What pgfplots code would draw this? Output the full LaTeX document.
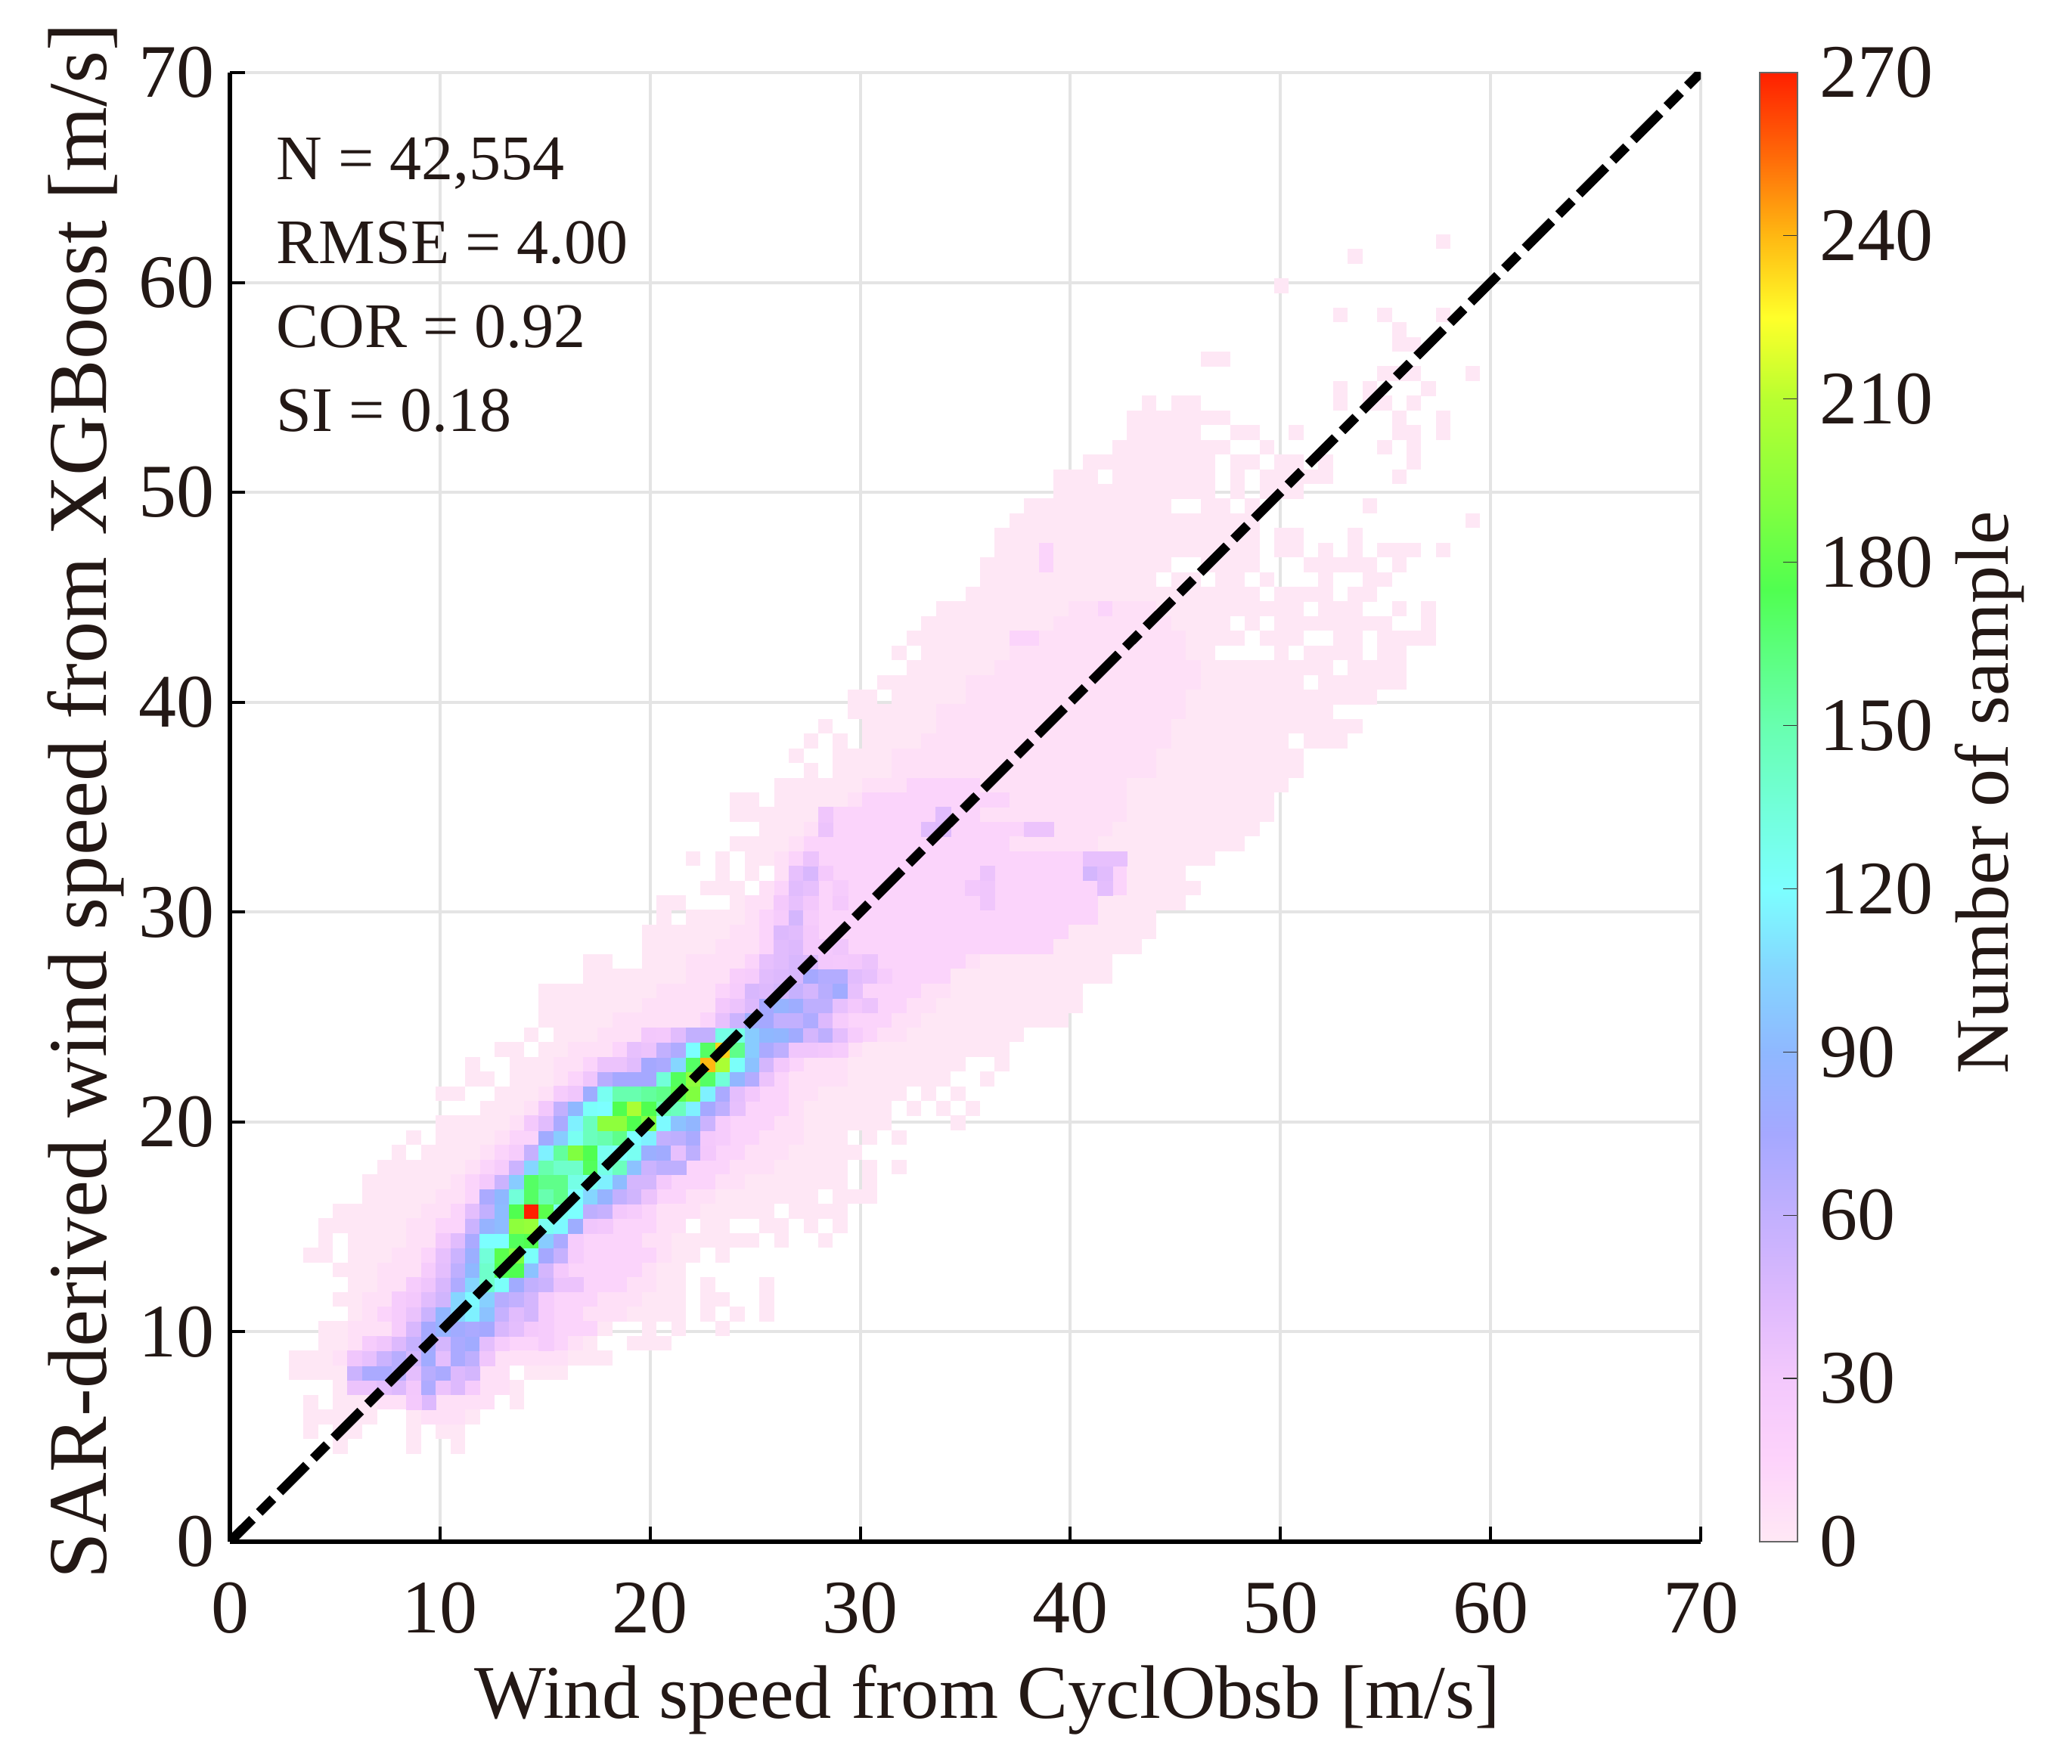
\documentclass[border=0pt]{standalone}
\usepackage{pgfplots}
\usepackage{pgfplotstable}
\usepackage{fontspec}
\setmainfont{Liberation Serif}
\pgfplotsset{compat=1.18}
\definecolor{ink}{HTML}{231815}
\definecolor{gridc}{HTML}{E4E4E4}
\definecolor{layA}{HTML}{FEE7F5}
\definecolor{layB}{HTML}{FEE0F7}
\definecolor{layC}{HTML}{FBD4FB}
% pale body of the histogram: row j, first and last bin of each run (bin = 0.7 m/s)
\pgfplotstableread[row sep=\\]{
j a b\\
6 7 7\\ 6 12 12\\ 6 15 15\\ 7 5 5\\ 7 7 8\\ 7 12 12\\ 7 14 15\\ 8 5 9\\ 8 12 16\\ 9 5 5\\ 9 7 17\\ 9 19 19\\ 10 7 19\\ 11 4 18\\ 11 20 22\\ 12 4 25\\ 13 6 24\\ 13 27 29\\ 14 6 25\\ 14 28 28\\ 14 30 30\\ 14 33 33\\ 15 8 30\\ 15 32 32\\ 15 34 34\\ 15 36 36\\ 16 7 30\\ 16 32 33\\ 16 36 36\\ 17 8 30\\ 17 32 32\\ 17 36 36\\ 18 7 30\\ 19 5 6\\ 19 8 31\\ 19 33 33\\ 20 6 6\\ 20 8 35\\ 20 37 37\\ 20 40 40\\ 21 6 30\\ 21 32 33\\ 21 36 37\\ 21 39 39\\ 21 41 41\\ 22 7 36\\ 22 38 41\\ 23 9 39\\ 23 41 43\\ 24 9 41\\ 24 43 43\\ 25 10 41\\ 25 43 43\\ 25 45 45\\ 26 11 11\\ 26 13 42\\ 27 12 12\\ 27 14 41\\ 27 43 43\\ 27 45 45\\ 28 14 44\\ 28 49 49\\ 29 17 44\\ 29 46 46\\ 29 48 48\\ 29 50 50\\ 30 14 15\\ 30 18 45\\ 30 47 47\\ 30 49 49\\ 31 16 17\\ 31 19 48\\ 31 51 51\\ 32 16 16\\ 32 19 49\\ 32 52 52\\ 33 18 19\\ 33 21 52\\ 34 20 20\\ 34 22 53\\ 35 21 56\\ 36 21 57\\ 37 21 57\\ 38 24 59\\ 39 24 25\\ 39 28 59\\ 40 28 61\\ 41 28 62\\ 42 29 29\\ 42 31 62\\ 43 29 30\\ 43 34 64\\ 44 32 34\\ 44 36 65\\ 45 33 33\\ 45 35 35\\ 45 37 64\\ 46 31 31\\ 46 33 33\\ 46 35 66\\ 47 34 68\\ 48 36 69\\ 49 34 70\\ 50 34 35\\ 50 37 70\\ 51 37 71\\ 52 39 39\\ 52 41 72\\ 53 38 38\\ 53 41 72\\ 54 39 39\\ 54 41 41\\ 54 43 71\\ 54 73 75\\ 55 40 40\\ 55 43 76\\ 56 42 74\\ 57 42 43\\ 57 45 77\\ 58 44 72\\ 58 74 79\\ 59 46 74\\ 59 76 79\\ 60 45 45\\ 60 47 66\\ 60 71 71\\ 60 73 76\\ 60 78 79\\ 61 46 68\\ 61 70 72\\ 61 75 76\\ 61 78 81\\ 62 47 67\\ 62 69 69\\ 62 71 78\\ 62 81 81\\ 63 48 72\\ 63 74 76\\ 63 79 79\\ 63 81 81\\ 64 50 69\\ 64 71 74\\ 64 76 77\\ 65 51 62\\ 65 64 65\\ 65 67 68\\ 65 70 70\\ 65 74 74\\ 65 77 78\\ 66 51 63\\ 66 66 69\\ 66 73 77\\ 66 79 79\\ 67 52 69\\ 67 71 72\\ 67 74 74\\ 67 76 76\\ 67 78 80\\ 67 82 82\\ 68 52 69\\ 68 71 72\\ 68 76 76\\ 69 53 69\\ 69 84 84\\ 70 54 63\\ 70 66 67\\ 70 69 69\\ 70 77 77\\ 71 56 66\\ 71 68 68\\ 71 70 72\\ 72 56 58\\ 72 60 66\\ 72 68 68\\ 72 70 74\\ 72 79 79\\ 73 58 66\\ 73 68 69\\ 73 71 72\\ 73 74 74\\ 73 80 80\\ 74 60 67\\ 74 70 70\\ 74 78 78\\ 74 80 80\\ 75 61 65\\ 75 68 69\\ 75 72 72\\ 75 79 80\\ 75 82 82\\ 76 61 67\\ 76 79 79\\ 76 82 82\\ 77 62 62\\ 77 64 65\\ 77 75 75\\ 77 77 78\\ 77 80 80\\ 78 75 75\\ 78 77 77\\ 78 81 81\\ 79 78 80\\ 79 84 84\\ 80 66 67\\ 81 79 80\\ 82 79 79\\ 83 75 75\\ 83 78 78\\ 83 82 82\\ 85 71 71\\ 87 76 76\\ 88 82 82\\
}\layerA
\pgfplotstableread[row sep=\\]{
j a b\\
8 13 15\\ 9 10 17\\ 10 8 18\\ 11 9 18\\ 12 7 22\\ 13 8 23\\ 14 8 24\\ 15 9 26\\ 16 9 27\\ 17 10 28\\ 18 10 28\\ 19 11 29\\ 20 12 29\\ 21 12 30\\ 22 13 31\\ 23 14 32\\ 24 15 34\\ 25 16 36\\ 26 17 37\\ 27 18 38\\ 28 19 38\\ 29 20 38\\ 30 21 39\\ 31 22 41\\ 32 22 41\\ 33 23 42\\ 34 25 45\\ 35 26 46\\ 36 28 47\\ 37 29 48\\ 38 31 48\\ 39 31 50\\ 40 33 52\\ 41 34 52\\ 42 35 53\\ 43 35 53\\ 44 36 54\\ 45 37 55\\ 46 37 57\\ 47 38 58\\ 48 39 59\\ 49 40 60\\ 50 42 60\\ 51 43 60\\ 52 45 62\\ 53 45 62\\ 54 47 63\\ 55 48 63\\ 56 48 64\\ 57 50 64\\ 58 50 65\\ 59 52 65\\ 60 53 64\\ 61 55 64\\ 62 56 63\\ 63 57 62\\
}\layerB
\pgfplotstableread[row sep=\\]{
j a b\\
13 19 22\\ 14 11 24\\ 15 10 23\\ 16 11 24\\ 17 12 26\\ 18 13 27\\ 19 13 28\\ 20 14 27\\ 21 14 28\\ 22 15 28\\ 23 16 30\\ 24 16 32\\ 25 17 33\\ 26 18 34\\ 27 19 35\\ 28 20 36\\ 29 21 37\\ 30 22 37\\ 31 23 37\\ 32 24 38\\ 33 26 41\\ 34 28 43\\ 35 32 44\\ 36 33 45\\ 37 33 46\\ 38 34 48\\ 39 35 49\\ 40 36 55\\ 41 36 56\\ 42 36 58\\ 43 37 58\\ 44 37 60\\ 45 38 60\\ 46 38 60\\ 47 39 52\\ 48 41 53\\ 49 41 50\\ 50 43 52\\ 51 46 50\\ 61 53 54\\ 63 59 59\\ 66 55 55\\ 67 55 55\\
}\layerC
% dense core: bin i, row j, number of samples
\pgfplotstableread[row sep=\\]{
i j v\\
13 9 45\\ 12 9 28\\
8 10 35\\ 9 10 35\\ 10 10 40\\ 11 10 45\\ 12 10 30\\ 13 10 70\\ 14 10 35\\ 15 10 45\\ 16 10 25\\
8 11 55\\ 9 11 72\\ 10 11 72\\ 11 11 65\\ 12 11 40\\ 13 11 65\\ 14 11 72\\ 15 11 45\\ 16 11 50\\
8 12 32\\ 9 12 38\\ 10 12 55\\ 11 12 65\\ 12 12 50\\ 13 12 78\\ 14 12 40\\ 15 12 72\\ 16 12 62\\ 17 12 32\\
9 13 25\\ 10 13 32\\ 11 13 45\\ 12 13 58\\ 13 13 75\\ 14 13 50\\ 15 13 72\\ 16 13 78\\ 17 13 40\\ 18 13 25\\ 21 13 25\\
11 14 25\\ 12 14 48\\ 13 14 75\\ 14 14 85\\ 15 14 78\\ 16 14 72\\ 17 14 75\\ 18 14 48\\ 19 14 40\\ 20 14 28\\ 21 14 25\\
11 15 25\\ 12 15 36\\ 13 15 55\\ 14 15 88\\ 15 15 105\\ 16 15 115\\ 17 15 95\\ 18 15 58\\ 19 15 42\\ 20 15 50\\ 21 15 25\\
11 16 25\\ 12 16 30\\ 13 16 42\\ 14 16 52\\ 15 16 105\\ 16 16 118\\ 17 16 102\\ 18 16 66\\ 19 16 60\\ 20 16 50\\ 21 16 25\\
12 17 25\\ 13 17 33\\ 14 17 48\\ 15 17 70\\ 16 17 105\\ 17 17 140\\ 18 17 122\\ 19 17 78\\ 20 17 60\\ 21 17 55\\ 22 17 35\\ 23 17 35\\
13 18 25\\ 14 18 40\\ 15 18 62\\ 16 18 90\\ 17 18 140\\ 18 18 175\\ 19 18 175\\ 20 18 95\\ 21 18 50\\ 22 18 28\\
14 19 38\\ 15 19 55\\ 16 19 82\\ 17 19 135\\ 18 19 178\\ 19 19 190\\ 20 19 122\\ 21 19 75\\ 22 19 58\\ 23 19 25\\
14 20 28\\ 15 20 42\\ 16 20 72\\ 17 20 120\\ 18 20 120\\ 19 20 172\\ 20 20 175\\ 21 20 100\\ 22 20 72\\ 23 20 25\\
16 21 55\\ 17 21 85\\ 18 21 92\\ 19 21 195\\ 20 21 198\\ 21 21 125\\ 22 21 118\\ 23 21 80\\ 24 21 32\\ 25 21 30\\
16 22 40\\ 17 22 60\\ 18 22 92\\ 19 22 175\\ 20 22 270\\ 21 22 178\\ 22 22 125\\ 23 22 120\\ 24 22 62\\ 25 22 58\\ 26 22 30\\ 27 22 25\\
17 23 72\\ 18 23 90\\ 19 23 135\\ 20 23 170\\ 21 23 150\\ 22 23 160\\ 23 23 120\\ 24 23 105\\ 25 23 85\\ 26 23 60\\ 27 23 52\\ 28 23 35\\
17 24 28\\ 18 24 55\\ 19 24 100\\ 20 24 170\\ 21 24 160\\ 22 24 160\\ 23 24 130\\ 24 24 125\\ 25 24 115\\ 26 24 92\\ 27 24 50\\ 28 24 50\\ 29 24 28\\
18 25 25\\ 19 25 55\\ 20 25 105\\ 21 25 150\\ 22 25 140\\ 23 25 140\\ 24 25 172\\ 25 25 130\\ 26 25 145\\ 27 25 95\\ 28 25 55\\ 29 25 62\\ 30 25 62\\
19 26 25\\ 20 26 58\\ 21 26 115\\ 22 26 155\\ 23 26 190\\ 24 26 175\\ 25 26 125\\ 26 26 120\\ 27 26 125\\ 28 26 82\\ 29 26 78\\ 30 26 38\\ 31 26 62\\ 32 26 30\\
21 27 78\\ 22 27 100\\ 23 27 125\\ 24 27 145\\ 25 27 150\\ 26 27 160\\ 27 27 120\\ 28 27 115\\ 29 27 60\\ 30 27 62\\ 31 27 72\\ 32 27 28\\ 33 27 25\\
20 28 28\\ 21 28 42\\ 22 28 72\\ 23 28 115\\ 24 28 145\\ 25 28 195\\ 26 28 195\\ 27 28 175\\ 28 28 190\\ 29 28 118\\ 30 28 95\\ 31 28 88\\ 32 28 55\\ 33 28 25\\
21 29 30\\ 22 29 60\\ 23 29 90\\ 24 29 122\\ 25 29 120\\ 26 29 175\\ 27 29 205\\ 28 29 175\\ 29 29 150\\ 30 29 145\\ 31 29 115\\ 32 29 75\\ 33 29 62\\ 34 29 38\\
22 30 25\\ 23 30 32\\ 24 30 80\\ 25 30 125\\ 26 30 150\\ 27 30 150\\ 28 30 155\\ 29 30 160\\ 30 30 178\\ 31 30 190\\ 32 30 115\\ 33 30 72\\ 34 30 40\\ 35 30 30\\
24 31 32\\ 25 31 65\\ 26 31 75\\ 27 31 75\\ 28 31 75\\ 29 31 135\\ 30 31 172\\ 31 31 195\\ 32 31 170\\ 33 31 135\\ 34 31 88\\ 35 31 68\\ 36 31 35\\
25 32 35\\ 26 32 35\\ 27 32 42\\ 28 32 75\\ 29 32 72\\ 30 32 105\\ 31 32 170\\ 32 32 240\\ 33 32 205\\ 34 32 122\\ 35 32 95\\ 36 32 50\\ 37 32 30\\
27 33 38\\ 28 33 35\\ 29 33 60\\ 30 33 70\\ 31 33 120\\ 32 33 170\\ 33 33 235\\ 34 33 160\\ 35 33 100\\ 36 33 72\\ 37 33 62\\ 38 33 32\\ 39 33 32\\ 40 33 30\\ 41 33 25\\
28 34 30\\ 29 34 28\\ 30 34 42\\ 31 34 60\\ 32 34 60\\ 33 34 130\\ 34 34 130\\ 35 34 100\\ 36 34 90\\ 37 34 88\\ 38 34 78\\ 39 34 50\\ 40 34 62\\ 41 34 40\\ 42 34 25\\
33 35 38\\ 34 35 55\\ 35 35 80\\ 36 35 75\\ 37 35 60\\ 38 35 60\\ 39 35 70\\ 40 35 45\\ 41 35 25\\
33 36 30\\ 34 36 35\\ 35 36 45\\ 36 36 75\\ 37 36 85\\ 38 36 80\\ 39 36 62\\ 40 36 62\\ 41 36 38\\ 42 36 30\\ 43 36 35\\
34 37 25\\ 35 37 48\\ 36 37 45\\ 37 37 50\\ 38 37 58\\ 39 37 50\\ 40 37 65\\ 41 37 78\\ 42 37 38\\
34 38 22\\ 35 38 25\\ 36 38 42\\ 37 38 45\\ 38 38 48\\ 39 38 75\\ 40 38 68\\ 41 38 68\\ 42 38 42\\ 43 38 38\\ 44 38 25\\
36 39 38\\ 37 39 42\\ 38 39 48\\ 39 39 45\\ 40 39 30\\ 41 39 28\\ 42 39 30\\ 43 39 35\\
37 40 42\\ 38 40 45\\ 39 40 28\\ 40 40 28\\ 41 40 32\\
37 41 45\\ 38 41 42\\ 39 41 28\\
37 42 25\\ 38 42 50\\ 39 42 25\\
37 43 28\\ 38 43 38\\ 39 43 30\\ 41 43 28\\ 51 43 32\\
38 44 42\\ 39 44 38\\ 41 44 25\\ 50 44 30\\ 51 44 32\\ 59 44 40\\
38 45 38\\ 39 45 48\\ 40 45 28\\ 51 45 35\\ 58 45 50\\ 59 45 42\\
39 46 35\\ 58 46 38\\ 59 46 38\\ 60 46 38\\
47 48 42\\ 48 48 45\\ 40 48 35\\ 54 48 35\\ 55 48 35\\ 48 49 42\\ 40 49 32\\
}\core
\begin{document}
\begin{tikzpicture}
\useasboundingbox (0,0) rectangle (685pt,583.25pt);
\begin{axis}[
  at={(76pt,73.5pt)}, anchor=south west,
  scale only axis, width=486.25pt, height=485.75pt,
  xmin=0, xmax=70, ymin=0, ymax=70,
  xtick={0,10,...,70}, ytick={0,10,...,70},
  axis x line=bottom, axis y line=left,
  axis line style={-, black, line width=1.4pt},
  tick align=inside, major tick length=5pt,
  tick style={black, line width=1pt},
  grid=major, grid style={gridc, line width=1pt},
  /pgf/number format/assume math mode=true,
  tick label style={font=\fontsize{25}{25}\selectfont, text=ink},
  xticklabel style={yshift=-10pt},
  yticklabel style={xshift=-1.5pt},
  xlabel={Wind speed from CyclObsb [m/s]},
  ylabel={SAR-derived wind speed from XGBoost [m/s]},
  xlabel style={font=\fontsize{25.1}{25}\selectfont, text=ink, at={(axis description cs:0.515,-0.12)}, anchor=base},
  ylabel style={font=\fontsize{27.6}{27.5}\selectfont, text=ink, at={(axis description cs:-0.0982,0.504)}, anchor=center},
  colormap={sar}{rgb255(0)=(255,232,245); rgb255(15)=(253,211,251); rgb255(30)=(243,200,252); rgb255(45)=(221,185,253); rgb255(60)=(194,176,254); rgb255(75)=(165,168,255); rgb255(90)=(143,184,255); rgb255(105)=(133,214,255); rgb255(120)=(124,255,255); rgb255(135)=(114,255,217); rgb255(150)=(104,255,175); rgb255(165)=(90,255,120); rgb255(175)=(80,255,80); rgb255(190)=(128,255,64); rgb255(210)=(184,255,48); rgb255(225)=(255,255,42); rgb255(240)=(255,184,18); rgb255(255)=(255,104,8); rgb255(270)=(255,32,0)},
  point meta min=0, point meta max=270,
  colorbar,
  colorbar style={
    at={(parent axis.north east)}, anchor=north west, xshift=11pt,
    width=12.5pt,
    ytick={0,30,...,270},
    ytick pos=right, yticklabel pos=right,
    tick align=inside, major tick length=4.7pt,
    tick style={black!80, line width=0.3pt},
    axis line style={black!60, line width=0.5pt},
    yticklabel style={font=\fontsize{25}{25}\selectfont, text=ink, xshift=3.7pt},
    /pgf/number format/assume math mode=true,
    ylabel={Number of sample},
    ylabel style={font=\fontsize{25}{25}\selectfont, text=ink, at={(axis description cs:6.08,0.51)}, anchor=center},
  },
]
\addplot[draw=none, mark=none, forget plot, error bars/.cd, x dir=plus, x explicit, error mark=none, error bar style={solid, layA, line width=4.9pt}]
  table[x expr=\thisrow{a}*0.7, y expr=\thisrow{j}*0.7+0.35, x error expr=(\thisrow{b}-\thisrow{a}+1)*0.7] {\layerA};
\addplot[draw=none, mark=none, forget plot, error bars/.cd, x dir=plus, x explicit, error mark=none, error bar style={solid, layB, line width=4.9pt}]
  table[x expr=\thisrow{a}*0.7, y expr=\thisrow{j}*0.7+0.35, x error expr=(\thisrow{b}-\thisrow{a}+1)*0.7] {\layerB};
\addplot[draw=none, mark=none, forget plot, error bars/.cd, x dir=plus, x explicit, error mark=none, error bar style={solid, layC, line width=4.9pt}]
  table[x expr=\thisrow{a}*0.7, y expr=\thisrow{j}*0.7+0.35, x error expr=(\thisrow{b}-\thisrow{a}+1)*0.7] {\layerC};
\addplot[scatter, only marks, forget plot, mark=square*, mark size=2.43pt, mark options={line width=0.1pt}, scatter/use mapped color={draw=mapped color, fill=mapped color}, point meta=explicit]
  table[x expr=\thisrow{i}*0.7+0.35, y expr=\thisrow{j}*0.7+0.35, meta=v] {\core};
\node[anchor=base west, inner sep=0pt, text=ink, font=\fontsize{21}{21}\selectfont] at (axis cs:2.2,64.9) {N = 42,554};
\node[anchor=base west, inner sep=0pt, text=ink, font=\fontsize{21}{21}\selectfont] at (axis cs:2.2,60.9) {RMSE = 4.00};
\node[anchor=base west, inner sep=0pt, text=ink, font=\fontsize{21}{21}\selectfont] at (axis cs:2.2,56.9) {COR = 0.92};
\node[anchor=base west, inner sep=0pt, text=ink, font=\fontsize{21}{21}\selectfont] at (axis cs:2.2,52.9) {SI = 0.18};
\end{axis}
\begin{axis}[
  at={(76pt,73.5pt)}, anchor=south west,
  scale only axis, width=486.25pt, height=485.75pt,
  xmin=0, xmax=70, ymin=0, ymax=70, hide axis,
]
\addplot[black, line width=3.1pt, dash pattern=on 12.5pt off 3.2pt on 6.4pt off 3.2pt, dash phase=2pt, forget plot]
  coordinates {(0,0) (70,70)};
\end{axis}
\end{tikzpicture}
\end{document}
